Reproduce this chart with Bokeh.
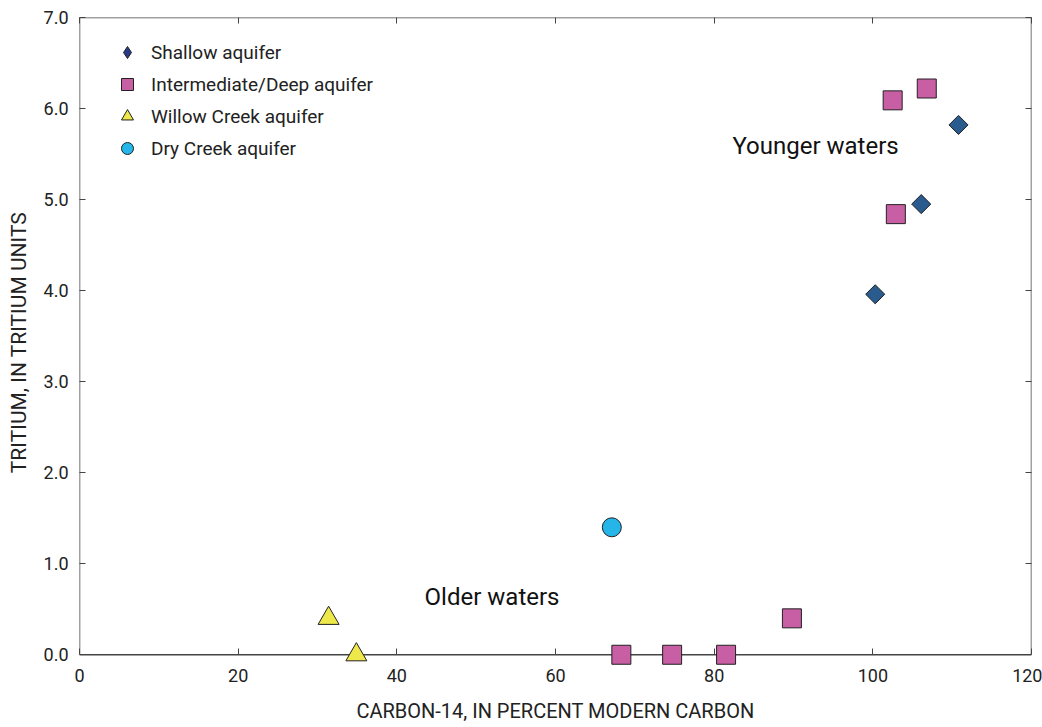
from bokeh.plotting import figure
from bokeh.models import (LinearAxis, Range1d, Legend, LegendItem, FixedTicker, Label,
                          NumeralTickFormatter, CustomJSTickFormatter, BoxAnnotation)
from bokeh.embed import file_html
from bokeh.resources import INLINE

FONT = "Roboto"
INK = "#222222"
AX = "#444444"

shallow_x = [100.3, 106.1, 110.8]
shallow_y = [3.96, 4.95, 5.82]
deep_x = [102.5, 106.8, 102.9, 89.8, 68.3, 74.7, 81.5]
deep_y = [6.09, 6.22, 4.84, 0.40, 0.0, 0.0, 0.0]
willow_x = [31.4, 34.9]
willow_y = [0.40, 0.0]
dry_x = [67.1]
dry_y = [1.40]

x_ticks = [0, 20, 40, 60, 80, 100, 120]
y_ticks = [0, 1, 2, 3, 4, 5, 6, 7]
X_MIN, X_MAX, Y_MIN, Y_MAX = 0, 120, 0, 7
PAD = 0.14  # room below zero so markers on the zero line are not clipped

p = figure(width=1042, height=727, output_backend="svg", toolbar_location=None,
           x_range=Range1d(X_MIN, X_MAX), y_range=Range1d(Y_MIN - PAD, Y_MAX),
           min_border_left=79, min_border_right=11, min_border_top=17, min_border_bottom=60)
p.grid.visible = False
p.outline_line_color = None

for ax in (p.xaxis[0], p.yaxis[0]):
    ax.minor_tick_line_color = None
    ax.axis_line_color = None
    ax.major_tick_line_color = AX
    ax.major_tick_line_width = 1
    ax.major_label_text_font = FONT
    ax.major_label_text_font_size = "18px"
    ax.major_label_text_color = INK
    ax.axis_label_text_font = FONT
    ax.axis_label_text_font_style = "normal"
    ax.axis_label_text_color = INK

p.xaxis[0].ticker = FixedTicker(ticks=x_ticks)
p.xaxis[0].major_tick_in = 19
p.xaxis[0].major_tick_out = -13
p.xaxis[0].major_label_standoff = 1
p.xaxis[0].axis_label = "CARBON-14, IN PERCENT MODERN CARBON"
p.xaxis[0].axis_label_text_font_size = "20px"
p.xaxis[0].axis_label_standoff = 14

p.yaxis[0].ticker = FixedTicker(ticks=y_ticks)
p.yaxis[0].major_tick_in = 6
p.yaxis[0].major_tick_out = 0
p.yaxis[0].formatter = NumeralTickFormatter(format="0.0")
p.yaxis[0].axis_label = "TRITIUM, IN TRITIUM UNITS"
p.yaxis[0].axis_label_text_font_size = "21px"
p.yaxis[0].major_label_standoff = 11
p.yaxis[0].axis_label_standoff = 10

blank = CustomJSTickFormatter(code="return ''")
top = LinearAxis(ticker=FixedTicker(ticks=x_ticks), formatter=blank,
                 major_tick_in=6, major_tick_out=0, minor_tick_line_color=None,
                 axis_line_color=None, major_tick_line_color=AX)
right = LinearAxis(ticker=FixedTicker(ticks=y_ticks), formatter=blank,
                   major_tick_in=6, major_tick_out=0, minor_tick_line_color=None,
                   axis_line_color=None, major_tick_line_color=AX)
p.add_layout(top, "above")
p.add_layout(right, "right")

p.add_layout(BoxAnnotation(left=X_MIN, right=X_MAX, bottom=Y_MIN, top=Y_MAX,
                           fill_alpha=0, line_color=AX, line_alpha=1, line_width=1.5))

# legend key glyph for the shallow wells (legend markers are never rotated);
# it sits hidden beneath the rotated squares
r1_key = p.scatter(shallow_x, shallow_y, marker="diamond", size=12,
                   fill_color="#283a85", line_color=INK, line_width=1)
r1 = p.scatter(shallow_x, shallow_y, marker="square", angle=45, angle_units="deg", size=13.5,
               fill_color="#2a5b8e", line_color=INK, line_width=1, level="overlay")
r2 = p.scatter(deep_x, deep_y, marker="square", size=19, fill_color="#c85ea3",
               line_color=INK, line_width=1, level="overlay")
r3 = p.scatter(willow_x, willow_y, marker="triangle", size=21, fill_color="#eee84a",
               line_color=INK, line_width=1, level="overlay")
r4 = p.scatter(dry_x, dry_y, marker="circle", size=19, fill_color="#25b5e8",
               line_color=INK, line_width=1, level="overlay")

p.add_layout(Label(x=82.3, y=5.59, text="Younger waters", text_font=FONT,
                   text_font_size="24px", text_color="#111111", text_baseline="middle"))
p.add_layout(Label(x=43.5, y=0.63, text="Older waters", text_font=FONT,
                   text_font_size="24px", text_color="#111111", text_baseline="middle"))

legend = Legend(items=[
    LegendItem(label="Shallow aquifer", renderers=[r1_key]),
    LegendItem(label="Intermediate/Deep aquifer", renderers=[r2]),
    LegendItem(label="Willow Creek aquifer", renderers=[r3]),
    LegendItem(label="Dry Creek aquifer", renderers=[r4]),
], location=(33, 504))
legend.border_line_color = None
legend.background_fill_alpha = 0
legend.label_text_font = FONT
legend.label_text_font_size = "19px"
legend.label_text_color = INK
legend.glyph_width = 30
legend.glyph_height = 30
legend.spacing = 2
legend.padding = 0
legend.margin = 0
legend.label_standoff = 9
p.add_layout(legend)

open("out.html", "w").write(file_html(p, INLINE))
